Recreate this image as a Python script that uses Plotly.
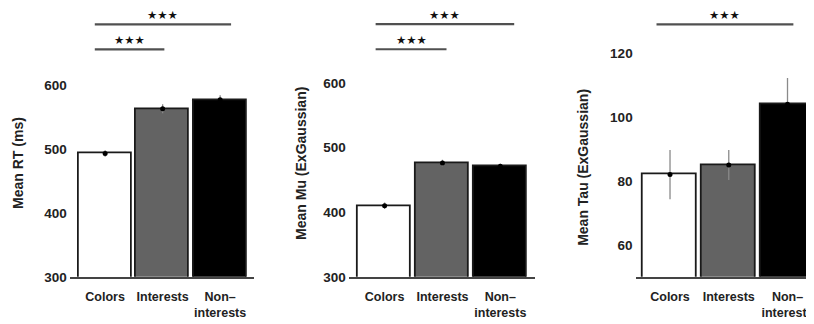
import plotly.graph_objects as go

categories = ["Colors", "Interests", "Non–<br>interests"]
x_pos = [0, 1, 2]
bar_colors = ["#ffffff", "#636363", "#000000"]

rt_mean = [493, 563, 577]
rt_err = [5, 7, 7]
mu_mean = [410, 476, 471]
mu_err = [5, 5, 4]
tau_mean = [82, 85, 104]
tau_err = [7.7, 4.7, 8.2]

# page body keeps its default 8px margin; the photo is taken of a slightly taller page
W, H = 806, 316
S = 332 / 324


def fx(X):
    return (X - 8) / W


def fy(Y):
    return 1 - (Y * S - 8) / H


panels = [
    dict(mean=rt_mean, err=rt_err, title="Mean RT (ms)", ticks=[300, 400, 500, 600],
         yrange=[300, 701.6], xdomain=[fx(70), fx(255)], xrange=[-0.615, 2.59],
         sig=[(-0.18, 2.19, 695), (-0.18, 1.03, 656)], title_x=fx(18), title_y=fy(163)),
    dict(mean=mu_mean, err=mu_err, title="Mean Mu (ExGaussian)", ticks=[300, 400, 500, 600],
         yrange=[300, 697], xdomain=[fx(350), fx(537)], xrange=[-0.62, 2.6],
         sig=[(-0.155, 2.24, 691), (-0.155, 1.07, 652)], title_x=fx(302), title_y=fy(163)),
    dict(mean=tau_mean, err=tau_err, title="Mean Tau (ExGaussian)", ticks=[60, 80, 100, 120],
         yrange=[50, 130.3], xdomain=[fx(638), 1.0], xrange=[-0.585, 2.4],
         sig=[(-0.23, 2.1, 129)], title_x=fx(585), title_y=fy(167)),
]

fig = go.Figure()
shapes = []
annotations = []
ydom = [fy(277), fy(20)]
font_family = "Liberation Sans, Arial, sans-serif"

for i, p in enumerate(panels):
    n = "" if i == 0 else str(i + 1)
    xa, ya = "x" + n, "y" + n
    dark = [c == "#000000" for c in bar_colors]
    minus_gray = [0 if d else e for d, e in zip(dark, p["err"])]
    minus_black = [e if d else 0 for d, e in zip(dark, p["err"])]
    fig.add_trace(go.Bar(
        x=x_pos, y=p["mean"], width=0.92, xaxis=xa, yaxis=ya,
        marker=dict(color=bar_colors, line=dict(color="#1a1a1a", width=1.8)),
        showlegend=False,
        error_y=dict(type="data", symmetric=False, array=p["err"], arrayminus=minus_gray,
                     color="#8a8a8a", thickness=1.3, width=0),
    ))
    fig.add_trace(go.Scatter(
        x=x_pos, y=p["mean"], mode="markers", xaxis=xa, yaxis=ya,
        marker=dict(color="#000000", size=5), showlegend=False,
        error_y=dict(type="data", symmetric=False, array=[0, 0, 0], arrayminus=minus_black,
                     color="#000000", thickness=1.3, width=0),
    ))
    fig.layout["xaxis" + n] = dict(
        domain=p["xdomain"], range=p["xrange"], anchor=ya,
        tickvals=x_pos, ticktext=categories, showgrid=False, zeroline=False,
        showline=True, linecolor="#444444", linewidth=2, ticks="",
        ticklabelstandoff=7, ticklabeloverflow="allow",
        tickfont=dict(family=font_family, size=12.5, color="#222222", weight="bold"),
    )
    fig.layout["yaxis" + n] = dict(
        domain=ydom, range=p["yrange"], anchor=xa, tickvals=p["ticks"],
        showgrid=False, zeroline=False, showline=False, ticks="",
        ticklabelstandoff=2,
        tickfont=dict(family=font_family, size=13.5, color="#222222", weight="bold"),
    )
    for (x0, x1, yv) in p["sig"]:
        shapes.append(dict(type="line", xref=xa, yref=ya, x0=x0, x1=x1, y0=yv, y1=yv,
                           line=dict(color="#505050", width=2.2)))
        annotations.append(dict(xref=xa, yref=ya, x=(x0 + x1) / 2, y=yv, text="★★★",
                                showarrow=False, yanchor="bottom", yshift=0,
                                font=dict(family="DejaVu Sans", size=11.5, color="#111111")))
    annotations.append(dict(xref="paper", yref="paper", x=p["title_x"], y=p["title_y"],
                            text=p["title"], textangle=-90, showarrow=False,
                            xanchor="center", yanchor="middle",
                            font=dict(family=font_family, size=14, color="#222222", weight="bold")))

fig.update_layout(
    width=W, height=H, margin=dict(l=0, r=0, t=0, b=0),
    paper_bgcolor="white", plot_bgcolor="white",
    shapes=shapes, annotations=annotations, bargap=0,
)

fig.write_html("out.html", config={"displayModeBar": False})
